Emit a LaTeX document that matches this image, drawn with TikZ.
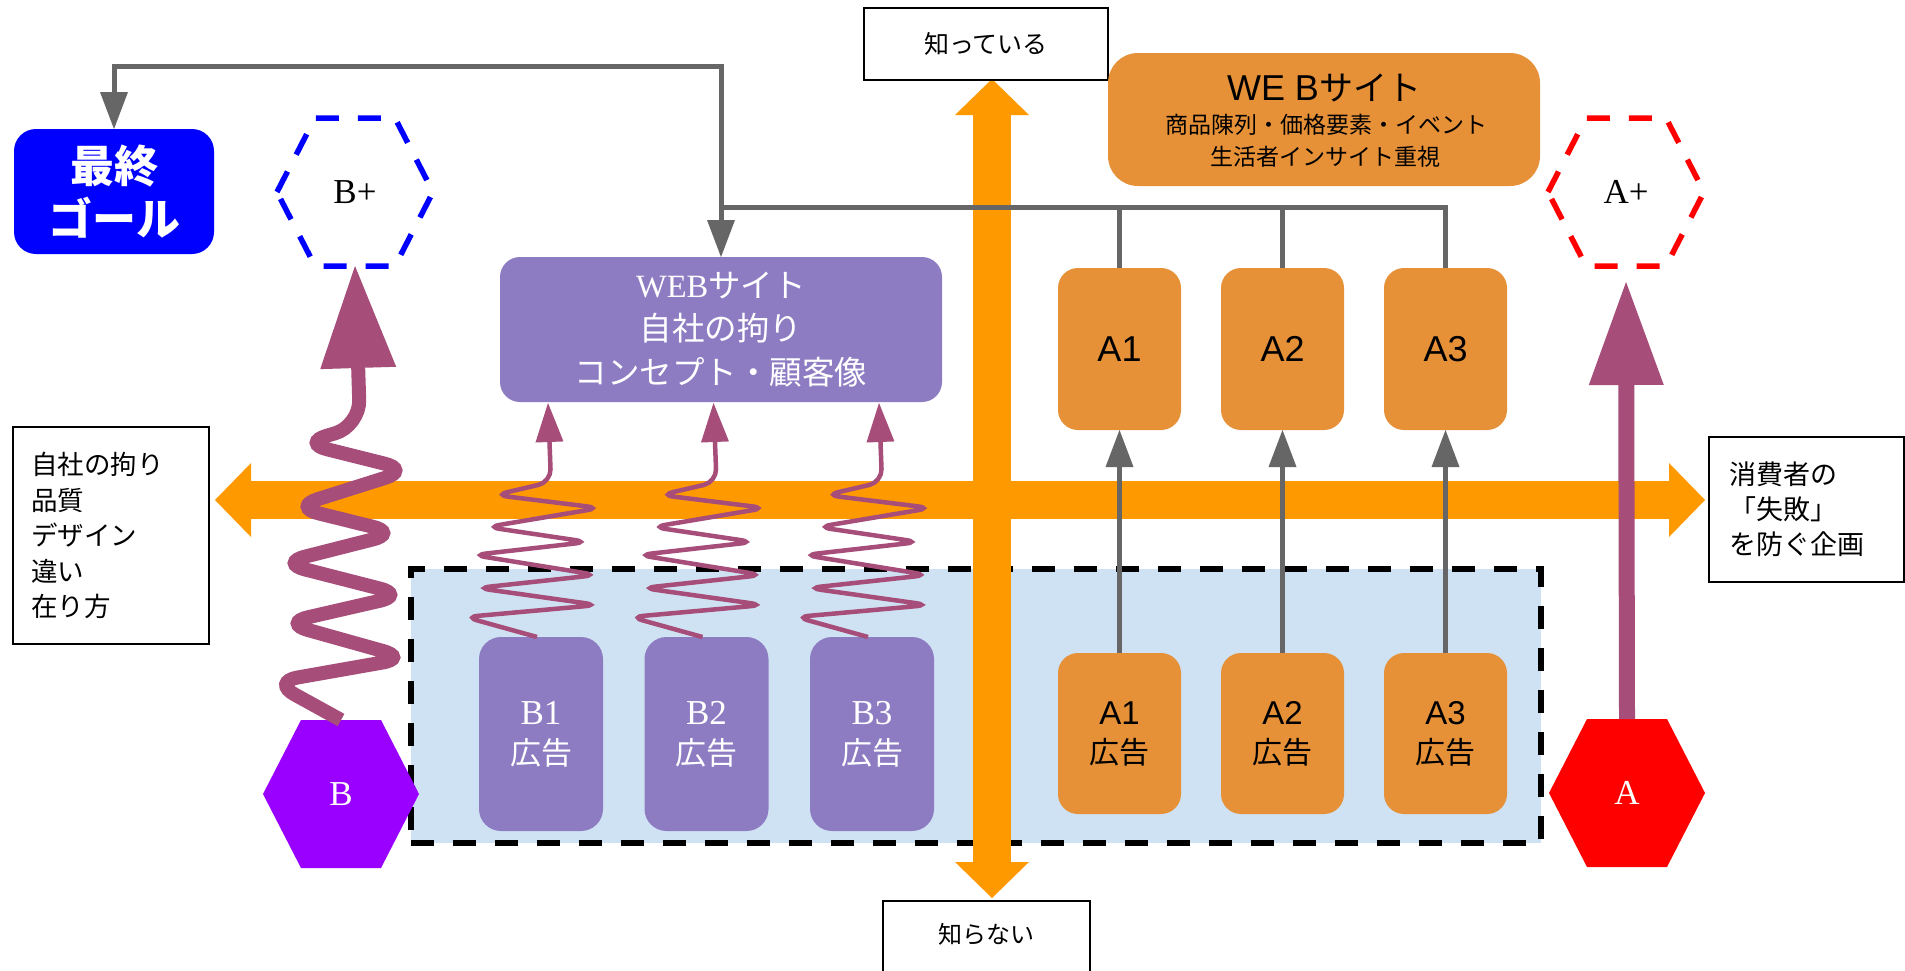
\documentclass[tikz,border=0pt]{standalone}
\usepackage{fontspec}
\setmainfont{Liberation Serif}
\newfontfamily\jpf{Noto Sans CJK JP}
\newfontfamily\sef{Liberation Serif}
\newfontfamily\saf{Liberation Sans}
\usetikzlibrary{arrows.meta}
\definecolor{cOr}{HTML}{FF9900}
\definecolor{cBox}{HTML}{E69138}
\definecolor{cPur}{HTML}{8E7CC3}
\definecolor{cSpr}{HTML}{A64D79}
\definecolor{cGr}{HTML}{666666}
\definecolor{cLb}{HTML}{CFE2F3}
\definecolor{cVi}{HTML}{9900FF}
\newcommand\fsz[2]{\fontsize{#1}{#2}\selectfont}
\newcommand\hexshape[2]{\path[#2] (#1) +(-78,0) -- +(-40,-74) -- +(40,-74) -- +(78,0) -- +(40,74) -- +(-40,74) -- cycle;}
\newcommand\sspring[1]{\draw[sspr] (#1.north) ++(-4,0) -- ++(-72,-20) -- ++(133,-12) -- ++(-121,-17) -- ++(120,-13) -- ++(-124,-20) -- ++(115,-13) -- ++(-101,-15) -- ++(113,-19) -- ++(-105,-13) -- ++(56,-13) -- ++(-3,-79);}
\begin{document}
\begin{tikzpicture}[x=1pt,y=-1pt,
  every node/.style={inner sep=0pt,outer sep=0pt},
  gl/.style={draw=cGr,line width=5pt,line join=miter},
  garr/.style={arrows={-Triangle[length=37pt 0 0,width=28pt 0 0,line width=0pt 0 0]}},
  axis/.style={draw=cOr,line width=38pt,arrows={Triangle[length=36pt 0 0,width=74pt 0 0,line width=0pt 0 0]-Triangle[length=36pt 0 0,width=74pt 0 0,line width=0pt 0 0]}},
  sspr/.style={draw=cSpr,line width=4.5pt,rounded corners=13pt,arrows={-Triangle[length=39pt 0 0,width=28pt 0 0,line width=0pt 0 0]}},
  bigspr/.style={draw=cSpr,line width=14pt,rounded corners=26pt,arrows={-Triangle[length=102pt 0 0,width=76pt 0 0,line width=0pt 0 0]}},
  aarr/.style={draw=cSpr,line width=16pt,shorten >=16pt,arrows={-Triangle[length=103pt 0 0,width=75pt 0 0,line width=0pt 0 0]}},
  hdash/.style={line width=5.5pt,dash pattern=on 23pt off 19pt},
  hexn/.style={minimum width=156pt,minimum height=148pt,font=\sef\fsz{35}{40}},
  obox/.style={fill=cBox,minimum width=123pt,minimum height=162pt,rounded corners=20pt,font=\saf\fsz{36}{40},align=center},
  pbox/.style={fill=cPur,minimum width=124pt,minimum height=194pt,rounded corners=22pt,text=white,align=center,font=\jpf\fsz{31}{40}},
  tbox/.style={draw,line width=2.5pt}
]
\useasboundingbox (0,0) rectangle (1905,970);
\clip (0,0) rectangle (1905,970);
\fill[white] (0,0) rectangle (1905,970);

% group frame
\node[draw,hdash,fill=cLb,minimum width=1130pt,minimum height=274pt] (grp) at (976,706) {};

% axes
\coordinate (axT) at (992,79);
\coordinate (axB) at (992,898);
\coordinate (axL) at (215,500);
\coordinate (axR) at (1705,500);
\draw[axis] (axT) -- (axB);
\draw[axis] (axL) -- (axR);

% text boxes
\node[tbox,minimum width=244pt,minimum height=72pt,font=\jpf\fsz{25}{30}] (know) at (986,44) {知っている};
\node[tbox,minimum width=207pt,text height=42pt,text depth=60pt,anchor=north,font=\jpf\fsz{24}{28}] (dunno) at (986.5,901) {知らない};
\node[tbox,minimum width=196pt,minimum height=217pt,text width=160pt,inner xsep=18pt,align=left,font=\jpf\fsz{26.5}{35.5}] (self) at (111,535.5) {自社の拘り\\品質\\デザイン\\違い\\在り方};
\node[tbox,minimum width=195pt,minimum height=145pt,text width=155pt,inner xsep=20pt,align=left,font=\jpf\fsz{27}{35}] (cons) at (1806.5,509.5) {消費者の\\「失敗」\\を防ぐ企画};

% goal
\node[fill=blue,minimum width=200pt,minimum height=125pt,rounded corners=22pt,text=white,align=center,font=\jpf\bfseries\fsz{44}{53}] (goal) at (114,191.5) {最終\\ゴール};

% purple web
\node[fill=cPur,minimum width=442pt,minimum height=145pt,rounded corners=20pt,text=white,align=center,font=\jpf\fsz{32.5}{43.5}] (WEBp) at (721,329.5) {{\sef WEB}サイト\\自社の拘り\\コンセプト・顧客像};

% orange web
\node[fill=cBox,minimum width=432pt,minimum height=133pt,rounded corners=30pt] (WEBo) at (1324,119.5) {};
\node[font=\jpf\fsz{34}{40}] (WEBo1) at (1324,88) {{\saf\fsz{36}{40}WE B}サイト};
\node[font=\jpf\fsz{23}{28}] (WEBo2) at (1326,125) {商品陳列・価格要素・イベント};
\node[font=\jpf\fsz{23}{28}] (WEBo3) at (1325,157) {生活者インサイト重視};

% A boxes
\node[obox] (A1t) at (1119.5,349) {A1};
\node[obox] (A2t) at (1282.5,349) {A2};
\node[obox] (A3t) at (1445.5,349) {A3};
\node[obox,minimum height=161pt,font=\jpf\fsz{30}{39}] (A1b) at (1119.5,733.5) {{\saf\fsz{33}{39}A1}\\広告};
\node[obox,minimum height=161pt,font=\jpf\fsz{30}{39}] (A2b) at (1282.5,733.5) {{\saf\fsz{33}{39}A2}\\広告};
\node[obox,minimum height=161pt,font=\jpf\fsz{30}{39}] (A3b) at (1445.5,733.5) {{\saf\fsz{33}{39}A3}\\広告};

% B boxes
\node[pbox] (B1) at (541,734) {{\sef\fsz{35}{40}B1}\\広告};
\node[pbox] (B2) at (706.5,734) {{\sef\fsz{35}{40}B2}\\広告};
\node[pbox] (B3) at (872,734) {{\sef\fsz{35}{40}B3}\\広告};

% hexagons
\hexshape{341,794}{fill=cVi}
\node[hexn,text=white] (B) at (341,794) {B};
\hexshape{1627,793}{fill=red}
\node[hexn,text=white] (A) at (1627,793) {A};
\hexshape{355,192}{draw=blue,hdash}
\node[hexn] (Bp) at (355,192) {B+};
\hexshape{1626,192}{draw=red,hdash}
\node[hexn] (Ap) at (1626,192) {A+};

% gray connectors
\coordinate (j) at (721,207);
\coordinate (tc) at (721,66);
\draw[gl] (A3t.north) |- (j);
\draw[gl] (A1t.north) -- (A1t.north |- j);
\draw[gl] (A2t.north) -- (A2t.north |- j);
\draw[gl,garr] (j) -- (WEBp.north);
\draw[gl,garr] (j) -- (tc) -| (goal.north);
\draw[gl,garr] (A1b.north) -- (A1t.south);
\draw[gl,garr] (A2b.north) -- (A2t.south);
\draw[gl,garr] (A3b.north) -- (A3t.south);

% springs
\sspring{B1}
\sspring{B2}
\sspring{B3}
\draw[bigspr] (B.north) -- (272,682) -- (408,658) -- (283,623) -- (405,595) -- (280,563) -- (398,533) -- (293,507) -- (410,470) -- (302,443) -- (360,426) -- (Bp.south);
\draw[aarr] (A.north) -- (Ap.south);
\end{tikzpicture}
\end{document}
